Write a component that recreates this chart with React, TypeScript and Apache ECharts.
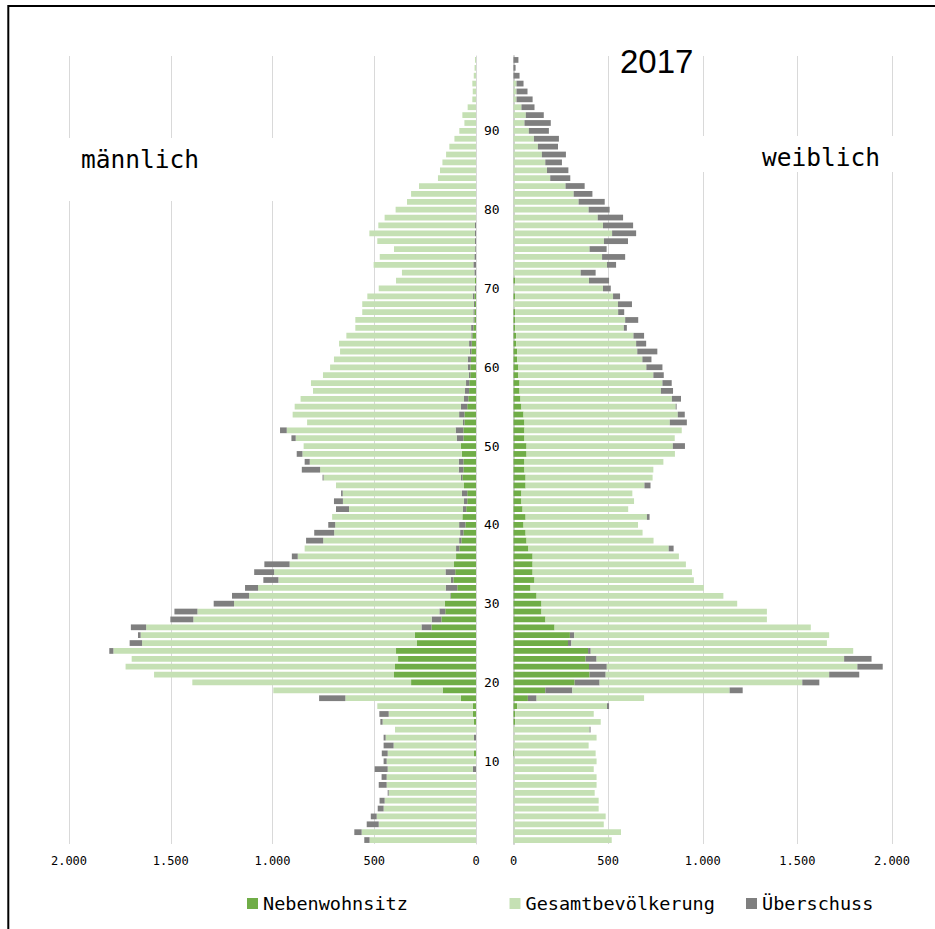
import React, { useEffect, useRef } from 'react';
import * as echarts from 'echarts';

// Altersjahre 0..99 (Kategorien, unten beginnend)
const ages: string[] = Array.from({ length: 100 }, (_, i) => String(i));

// ---------- männlich (Segmentlängen, Index = Alter) ----------
const maleNeben = [
  0, 0, 0, 0, 0, 0, 0, 0, 0, 0,
  0, 10, 0, 0, 0, 10, 15, 15, 74, 164,
  319, 403, 398, 383, 393, 290, 300, 219, 170, 151,
  154, 124, 92, 111, 102, 108, 98, 82, 72, 62,
  52, 67, 48, 43, 43, 59, 67, 62, 62, 70,
  74, 62, 62, 57, 57, 43, 38, 34, 33, 28,
  28, 25, 23, 21, 18, 13, 8, 8, 5, 8,
  0, 5, 0, 0, 0, 0, 0, 0, 0, 0,
  0, 0, 0, 0, 0, 0, 0, 0, 0, 0,
  0, 0, 0, 0, 0, 0, 0, 0, 0, 0,
];
const maleUeberInnen = [
  0, 0, 0, 0, 0, 0, 0, 0, 0, 15,
  0, 0, 0, 10, 0, 0, 0, 0, 0, 0,
  0, 0, 0, 0, 0, 0, 0, 49, 48, 29,
  0, 3, 57, 13, 48, 0, 0, 16, 11, 16,
  31, 0, 16, 16, 26, 0, 7, 23, 23, 0,
  0, 33, 38, 7, 26, 31, 21, 20, 16, 7,
  13, 16, 7, 13, 5, 11, 5, 5, 5, 8,
  5, 0, 8, 13, 8, 4, 5, 5, 5, 0,
  0, 0, 0, 0, 0, 0, 0, 0, 0, 0,
  0, 0, 0, 0, 0, 0, 0, 0, 0, 0,
];
const maleGesamt = [
  523, 562, 478, 488, 454, 449, 429, 439, 439, 419,
  439, 424, 405, 434, 398, 449, 414, 470, 568, 832,
  1075, 1179, 1324, 1309, 1389, 1351, 1348, 1353, 1171, 1189,
  1035, 988, 922, 847, 842, 808, 778, 744, 668, 619,
  609, 640, 560, 595, 586, 629, 675, 681, 732, 783,
  773, 791, 830, 766, 818, 817, 803, 747, 762, 717,
  676, 657, 638, 639, 614, 569, 580, 546, 549, 518,
  473, 388, 356, 490, 465, 399, 480, 519, 475, 449,
  395, 339, 319, 280, 187, 177, 165, 147, 131, 106,
  82, 57, 67, 41, 18, 16, 18, 11, 7, 5,
];
const maleUeberAussen = [
  26, 36, 59, 29, 29, 25, 5, 39, 25, 64,
  15, 29, 49, 10, 0, 11, 46, 0, 129, 0,
  0, 0, 0, 0, 20, 61, 13, 75, 113, 113,
  100, 84, 64, 74, 98, 124, 29, 0, 84, 98,
  34, 0, 64, 44, 8, 0, 5, 90, 25, 28,
  0, 21, 33, 0, 0, 0, 0, 0, 0, 0,
  0, 0, 0, 0, 0, 0, 0, 0, 0, 0,
  0, 0, 0, 0, 0, 0, 0, 0, 0, 0,
  0, 0, 0, 0, 0, 0, 0, 0, 0, 0,
  0, 0, 0, 0, 0, 0, 0, 0, 0, 0,
];

// ---------- weiblich ----------
const femaleNeben = [
  0, 0, 0, 0, 0, 0, 0, 0, 0, 0,
  0, 4, 0, 0, 0, 9, 9, 19, 76, 168,
  323, 402, 399, 381, 394, 288, 298, 217, 169, 148,
  148, 122, 90, 111, 101, 101, 101, 79, 69, 64,
  53, 64, 48, 42, 42, 64, 64, 58, 58, 69,
  69, 58, 58, 58, 53, 42, 37, 32, 32, 26,
  26, 19, 19, 14, 14, 9, 9, 9, 0, 9,
  0, 9, 0, 0, 0, 0, 0, 0, 0, 0,
  0, 0, 0, 0, 0, 0, 0, 0, 0, 0,
  0, 0, 0, 0, 0, 0, 0, 0, 0, 0,
];
const femaleUeberInnen = [
  0, 0, 0, 0, 0, 0, 0, 0, 0, 0,
  0, 0, 0, 0, 0, 0, 0, 0, 46, 143,
  132, 85, 94, 58, 14, 18, 23, 0, 0, 0,
  0, 0, 0, 0, 0, 0, 0, 0, 0, 0,
  0, 0, 0, 0, 0, 0, 0, 0, 0, 0,
  0, 0, 0, 0, 0, 0, 0, 0, 0, 0,
  0, 0, 0, 0, 0, 0, 0, 0, 0, 0,
  0, 0, 0, 0, 0, 0, 0, 0, 0, 0,
  0, 0, 0, 0, 0, 0, 0, 0, 0, 0,
  0, 0, 0, 0, 0, 0, 0, 0, 0, 0,
];
const femaleGesamt = [
  519, 568, 477, 487, 450, 450, 429, 439, 439, 424,
  439, 430, 397, 439, 402, 452, 415, 475, 568, 831,
  1071, 1181, 1324, 1308, 1387, 1350, 1347, 1354, 1170, 1191,
  1034, 987, 916, 842, 842, 810, 773, 741, 671, 618,
  605, 641, 558, 595, 586, 628, 671, 681, 734, 784,
  773, 794, 831, 768, 815, 815, 800, 747, 755, 713,
  676, 662, 635, 634, 620, 574, 581, 544, 552, 517,
  473, 390, 355, 494, 468, 402, 478, 521, 473, 445,
  397, 344, 318, 275, 194, 177, 168, 150, 129, 108,
  81, 58, 65, 42, 16, 16, 16, 0, 0, 0,
];
const femaleUeberAussen = [
  0, 0, 0, 0, 0, 0, 0, 0, 0, 0,
  0, 0, 0, 0, 5, 0, 0, 11, 0, 69,
  90, 159, 134, 145, 0, 0, 0, 0, 0, 0,
  0, 0, 0, 0, 0, 0, 0, 26, 0, 0,
  0, 14, 0, 0, 0, 32, 0, 0, 0, 0,
  64, 0, 0, 90, 37, 5, 48, 64, 49, 55,
  85, 48, 106, 53, 56, 16, 69, 32, 74, 37,
  41, 106, 79, 48, 122, 90, 127, 127, 159, 134,
  111, 138, 99, 101, 106, 113, 88, 127, 106, 132,
  106, 139, 95, 69, 85, 58, 37, 32, 11, 26,
];

const xTicks = [0, 500, 1000, 1500, 2000];
const legendNames = ['Nebenwohnsitz', 'Gesamtbevölkerung', 'Überschuss'];
const titleText = '2017';
const leftLabel = 'männlich';
const rightLabel = 'weiblich';

const MONO = '"DejaVu Sans Mono", "Liberation Mono", monospace';
const C_NEBEN = '#70ad47';
const C_GESAMT = '#c5e0b4';
const C_UEBER = '#7f7f7f';

const fmt = (v: number) =>
  v >= 1000 ? `${Math.floor(v / 1000)}.${String(v % 1000).padStart(3, '0')}` : String(v);

function mkBar(name: string, data: number[], color: string, stack: string, idx: number) {
  return {
    type: 'bar',
    name,
    data,
    stack,
    xAxisIndex: idx,
    yAxisIndex: idx,
    itemStyle: { color },
    barCategoryGap: '27%',
    silent: true,
    emphasis: { disabled: true },
  };
}

function valueAxis(idx: number, inverse: boolean) {
  return {
    type: 'value',
    gridIndex: idx,
    min: xTicks[0],
    max: xTicks[xTicks.length - 1],
    interval: xTicks[1] - xTicks[0],
    inverse,
    axisLine: { show: false },
    axisTick: { show: false },
    splitLine: { show: true, lineStyle: { color: '#d9d9d9', width: 1 } },
    axisLabel: { formatter: fmt, fontFamily: MONO, fontSize: 12, color: '#000', margin: 11 },
  };
}

export default function App() {
  const ref = useRef<HTMLDivElement>(null);
  useEffect(() => {
    if (!ref.current) return;
    const chart = echarts.init(ref.current, null, { renderer: 'svg' });
    const legendStyle = {
      top: 894,
      padding: 0,
      itemWidth: 11,
      itemHeight: 11,
      icon: 'rect',
      selectedMode: false,
      textStyle: { fontFamily: MONO, fontSize: 18.5, color: '#000' },
    };
    chart.setOption({
      animation: false,
      backgroundColor: '#fff',
      grid: [
        { left: 69, top: 56, width: 407, height: 788 },
        { left: 513.5, top: 56, width: 378.5, height: 788 },
      ],
      xAxis: [valueAxis(0, true), valueAxis(1, false)],
      yAxis: [
        {
          type: 'category',
          gridIndex: 0,
          position: 'right',
          data: ages,
          axisLine: { show: true, lineStyle: { color: '#d9d9d9', width: 1 } },
          axisTick: { show: false },
          axisLabel: {
            interval: (i: number) => i > 0 && i % 10 === 0,
            margin: 8,
            fontFamily: MONO,
            fontSize: 13,
            color: '#000',
          },
        },
        {
          type: 'category',
          gridIndex: 1,
          position: 'left',
          data: ages,
          axisLine: { show: true, lineStyle: { color: '#d0d0d0', width: 2 } },
          axisTick: { show: false },
          axisLabel: { show: false },
        },
      ],
      legend: [
        { ...legendStyle, left: 247, data: [legendNames[0]] },
        { ...legendStyle, left: 509.5, data: [legendNames[1]] },
        { ...legendStyle, left: 746, data: [legendNames[2]] },
      ],
      series: [
        mkBar(legendNames[0], maleNeben, C_NEBEN, 'm', 0),
        mkBar(legendNames[2], maleUeberInnen, C_UEBER, 'm', 0),
        mkBar(legendNames[1], maleGesamt, C_GESAMT, 'm', 0),
        mkBar(legendNames[2], maleUeberAussen, C_UEBER, 'm', 0),
        mkBar(legendNames[0], femaleNeben, C_NEBEN, 'f', 1),
        mkBar(legendNames[2], femaleUeberInnen, C_UEBER, 'f', 1),
        mkBar(legendNames[1], femaleGesamt, C_GESAMT, 'f', 1),
        mkBar(legendNames[2], femaleUeberAussen, C_UEBER, 'f', 1),
      ],
      graphic: [
        {
          type: 'rect',
          z: 100,
          shape: { x: 8.3, y: 6, width: 1000, height: 1000 },
          style: { fill: 'none', stroke: '#000', lineWidth: 2 },
          silent: true,
        },
        {
          type: 'rect',
          z: 50,
          shape: { x: 40, y: 138, width: 260, height: 63 },
          style: { fill: '#fff' },
          silent: true,
        },
        {
          type: 'rect',
          z: 50,
          shape: { x: 690, y: 136, width: 235, height: 36 },
          style: { fill: '#fff' },
          silent: true,
        },
        {
          type: 'text',
          z: 60,
          x: 81,
          y: 159,
          style: { text: leftLabel, font: `24.5px ${MONO}`, fill: '#000', verticalAlign: 'middle' },
        },
        {
          type: 'text',
          z: 60,
          x: 762,
          y: 157,
          style: { text: rightLabel, font: `24.5px ${MONO}`, fill: '#000', verticalAlign: 'middle' },
        },
        {
          type: 'text',
          z: 60,
          x: 620,
          y: 61,
          style: { text: titleText, font: '33px "Liberation Sans", Arial, sans-serif', fill: '#000', verticalAlign: 'middle' },
        },
      ],
    });
    return () => chart.dispose();
  }, []);
  return (
    <div
      ref={ref}
      style={{ position: 'fixed', left: 0, top: 0, width: 935, height: 929, background: '#fff' }}
    />
  );
}
